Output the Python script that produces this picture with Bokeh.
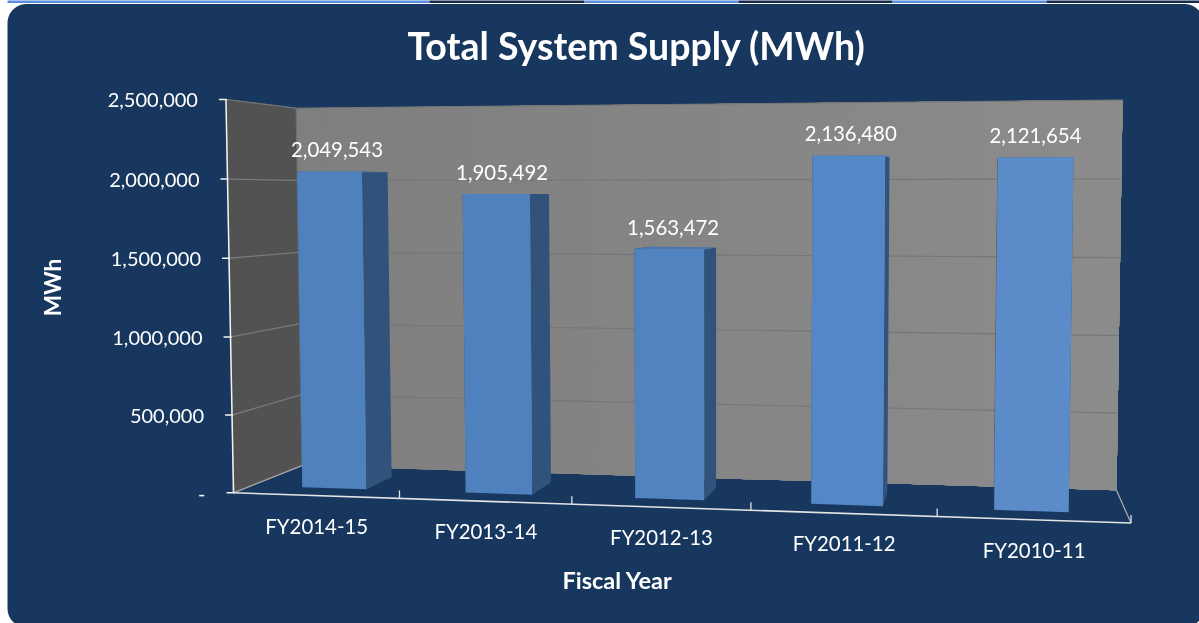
import numpy as np
from bokeh.core.properties import value
from bokeh.embed import file_html
from bokeh.models import Range1d
from bokeh.plotting import figure
from bokeh.resources import INLINE

categories = ["FY2014-15", "FY2013-14", "FY2012-13", "FY2011-12", "FY2010-11"]
supply = [2049543, 1905492, 1563472, 2136480, 2121654]
y_ticks = [0, 500000, 1000000, 1500000, 2000000, 2500000]
y_tick_labels = ["-", "500,000", "1,000,000", "1,500,000", "2,000,000", "2,500,000"]
y_max = 2500000
title = "Total System Supply (MWh)"
x_title = "Fiscal Year"
y_title = "MWh"

W, H = 1199, 623
FONT = value("Lato")
NAVY = "#17375e"

# camera: (category fraction, value fraction, depth) -> picture position, fitted to the chart frame
anchors = [
    ((0, 0, 0), (233, 492)), ((1, 0, 0), (1130, 523)), ((0, 0, 1), (301, 465)),
    ((1, 0, 1), (1116, 490)), ((0, 1, 0), (225, 99)), ((0, 1, 1), (296, 108)),
    ((1, 1, 1), (1122, 99)), ((.2, 0, 0), (399, 498)), ((.4, 0, 0), (572, 503.5)),
    ((.8, 0, 0), (937, 516)),
]
rows = []
for (a, b, c), (x, y) in anchors:
    rows.append([a, b, c, 1, 0, 0, 0, 0, -x * a, -x * b, -x * c, -x])
    rows.append([0, 0, 0, 0, a, b, c, 1, -y * a, -y * b, -y * c, -y])
CAM = np.linalg.svd(np.array(rows, float))[2][-1].reshape(3, 4)


def proj(u, v, d):
    q = CAM @ np.array([u, v, d, 1.0])
    return q[0] / q[2], q[1] / q[2]


def poly(*pts):
    xy = [proj(*pt) for pt in pts]
    return [a for a, _ in xy], [b for _, b in xy]


p = figure(width=W, height=H, x_range=Range1d(0, W), y_range=Range1d(H, 0),
           x_axis_type=None, y_axis_type=None, toolbar_location=None,
           output_backend="svg", min_border=0, outline_line_color=None,
           background_fill_color="white", border_fill_color="white",
           stylesheets=[":host{position:fixed !important;left:0;top:0}"])

# header strip
edges = [7, 429, 584, 738, 892, 1046, 1199]
p.quad(left=edges[:-1], right=edges[1:], top=-1, bottom=2.5,
       fill_color=["#578ede", "#16294a"] * 3, line_color=None)

# rounded panel
r, L, T, R, B = 19, 7, 3.5, 1203, 627
arc = np.linspace(0, np.pi / 2, 12)
px = np.r_[L + r - r * np.cos(arc), R - r + r * np.sin(arc), R - r + r * np.cos(arc), L + r - r * np.sin(arc)]
py = np.r_[T + r - r * np.sin(arc), T + r - r * np.cos(arc), B - r + r * np.sin(arc), B - r + r * np.cos(arc)]
p.patch(px, py, fill_color=NAVY, line_color=None)

# back wall as a soft gradient, side wall
n = 26
for i in range(n):
    t = i / n
    g = int(127 + 13 * t)
    xs, ys = poly((t, 0, 1), (1, 0, 1), (1, 1, 1), (t, 1, 1))
    p.patch(xs, ys, fill_color=f"#{g:02x}{g:02x}{g:02x}", line_color=None)
xs, ys = poly((0, 0, 0), (0, 0, 1), (0, 1, 1), (0, 1, 0))
p.patch(xs, ys, fill_color="#525252", line_color="#6f6f6f", line_width=1)

# gridlines
for tick in y_ticks[1:-1]:
    v = tick / y_max
    xs, ys = poly((0, v, 0), (0, v, 1))
    p.line(xs, ys, line_color="#7a7a7a", line_width=1.3)
    xs, ys = poly((0, v, 1), (1, v, 1))
    p.line(xs, ys, line_color="#777777", line_width=1.2)
xs, ys = poly((0, 1, 0), (0, 1, 1), (1, 1, 1))
p.line(xs, ys, line_color="#757575", line_width=1)

# floor edges
for a, b in [((0, 0, 0), (0, 0, 1)), ((1, 0, 0), (1, 0, 1))]:
    xs, ys = poly(a, b)
    p.line(xs, ys, line_color="#a8a8a8", line_width=1.3)

# bars
FRONT_COLORS = ["#4f81bd", "#4f81be", "#5083bf", "#5487c5", "#5b8bc8"]
n_cat = len(categories)
bar_w, d0, d1 = 0.079, 0.25, 0.68
for i, val in enumerate(supply):
    c = (i + 0.5) / n_cat
    c = 0.5 + (c - 0.5) * 0.9962 + 0.0009
    u0, u1, v = c - bar_w / 2, c + bar_w / 2, val / y_max
    for face in [
        ((u0, 0, d0), (u0, 0, d1), (u0, v, d1), (u0, v, d0)),
        ((u1, 0, d0), (u1, 0, d1), (u1, v, d1), (u1, v, d0)),
    ]:
        xs, ys = poly(*face)
        p.patch(xs, ys, fill_color="#31527b", line_color=None)
    xs, ys = poly((u0, v, d0), (u1, v, d0), (u1, v, d1), (u0, v, d1))
    p.patch(xs, ys, fill_color="#4a77ad", line_color=None)
    xs, ys = poly((u0, 0, d0), (u1, 0, d0), (u1, v, d0), (u0, v, d0))
    p.patch(xs, ys, fill_color=FRONT_COLORS[i], line_color=None)
    tx, _ = proj(c, v, 0.36)
    _, ty = proj(c, v, d0)
    p.text([tx + 0.5], [ty - 22], text=[f"{val:,}"], text_font=FONT, text_font_size="20.4px",
           text_color="white", text_align="center", text_baseline="middle")

# axes
xs, ys = poly((0, 0, 0), (0, 1, 0))
p.line(xs, ys, line_color="#f2f2f2", line_width=1.5)
xs, ys = poly((0, 0, 0), (1, 0, 0))
p.line(xs, ys, line_color="#e4e4e4", line_width=1.6)
for tick, label in zip(y_ticks, y_tick_labels):
    x, y = proj(0, tick / y_max, 0)
    p.segment([x - 7], [y], [x + 1], [y], line_color="#f2f2f2", line_width=1.5)
    p.text([x - 28], [y + 1], text=[label], text_font=FONT, text_font_size="20px",
           text_color="white", text_align="right", text_baseline="middle")
for i in range(n_cat + 1):
    x, y = proj(i / n_cat, 0, 0)
    p.segment([x], [y], [x], [y - 8], line_color="#e4e4e4", line_width=1.3)
for i, label in enumerate(categories):
    x, y = proj((i + 0.5) / n_cat, 0, 0)
    p.text([x + 1], [y + 30], text=[label], text_font=FONT, text_font_size="20.4px",
           text_color="white", text_align="center", text_baseline="middle")

# titles
p.text([636], [45], text=[title], text_font=FONT, text_font_size="37.5px", text_font_style="bold",
       text_color="white", text_align="center", text_baseline="middle")
p.text([617], [579], text=[x_title], text_font=FONT, text_font_size="23.5px", text_font_style="bold",
       text_color="white", text_align="center", text_baseline="middle")
p.text([52], [287], text=[y_title], text_font=FONT, text_font_size="22.5px", text_font_style="bold",
       text_color="white", text_align="center", text_baseline="middle", angle=np.pi / 2)

open("out.html", "w").write(file_html(p, INLINE))
